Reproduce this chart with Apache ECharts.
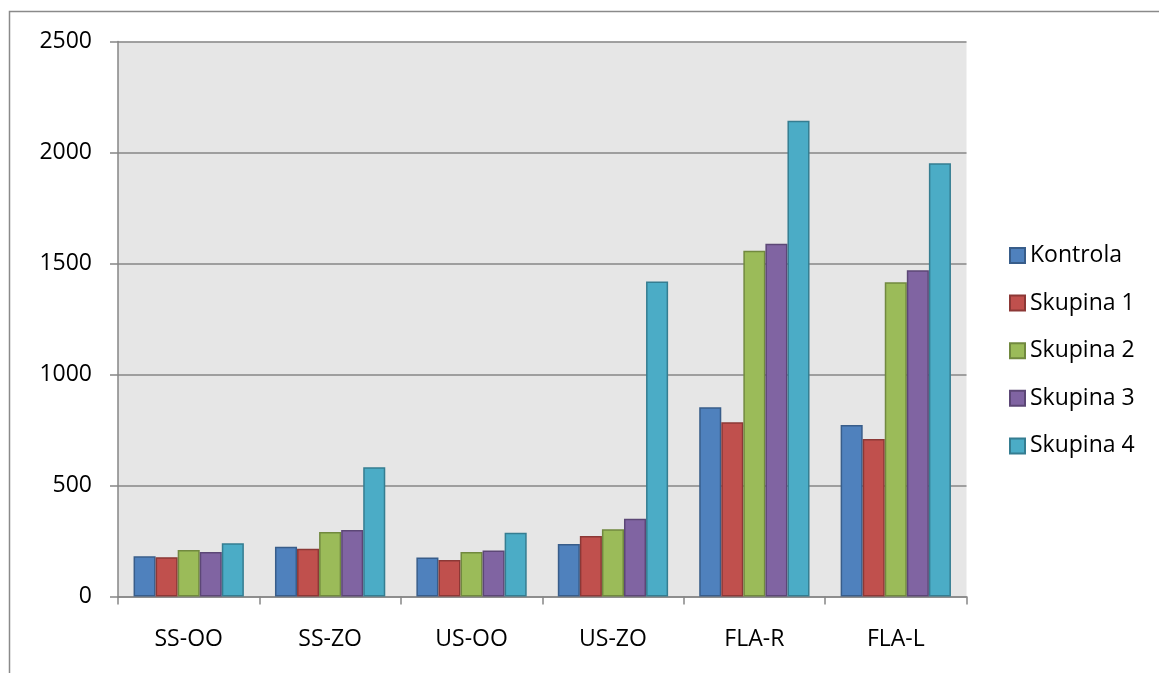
<!DOCTYPE html>
<html>
<head>
<meta charset="utf-8">
<script src="https://cdn.jsdelivr.net/npm/echarts@6/dist/echarts.min.js"></script>
<style>
  html, body { margin: 0; padding: 0; background: #ffffff; }
  #chart { width: 1159px; height: 673px; }
</style>
</head>
<body>
<div id="chart"></div>
<script>
// Measurement sites along the x axis
const categories = ['SS-OO', 'SS-ZO', 'US-OO', 'US-ZO', 'FLA-R', 'FLA-L'];

// Group values per site
const kontrola = [181, 224, 176, 236, 853, 773];
const skupina1 = [177, 215, 164, 273, 785, 709];
const skupina2 = [209, 290, 201, 303, 1557, 1416];
const skupina3 = [200, 300, 207, 350, 1589, 1470];
const skupina4 = [240, 582, 287, 1419, 2143, 1952];

const seriesNames = ['Kontrola', 'Skupina 1', 'Skupina 2', 'Skupina 3', 'Skupina 4'];
const seriesData = [kontrola, skupina1, skupina2, skupina3, skupina4];
const fills = ['#4F81BD', '#C0504D', '#9BBB59', '#8064A2', '#4BACC6'];
const edges = ['#385D8A', '#8C3836', '#71893F', '#5C4776', '#357D91'];

const FONT = 'Open Sans';
const AXIS_GRAY = '#868686';

const chart = echarts.init(document.getElementById('chart'), null, { renderer: 'canvas' });

chart.setOption({
  animation: false,
  backgroundColor: '#ffffff',
  graphic: [{
    type: 'rect',
    silent: true,
    shape: { x: 9.5, y: 11.5, width: 1300, height: 800 },
    style: { fill: 'none', stroke: '#8a8a8a', lineWidth: 1.5 }
  }],
  grid: {
    left: 118, top: 41.5, right: 192.5, bottom: 76.5,
    show: true, backgroundColor: '#e6e6e6', borderWidth: 0
  },
  legend: {
    orient: 'vertical',
    left: 1004, top: 239,
    itemWidth: 15, itemHeight: 15, itemGap: 24.6,
    icon: 'rect',
    textStyle: { fontFamily: FONT, fontSize: 23, color: '#000', lineHeight: 23 },
    data: seriesNames
  },
  xAxis: {
    type: 'category',
    data: categories,
    axisLine: { show: true, lineStyle: { color: AXIS_GRAY, width: 1.5 } },
    axisTick: { show: true, alignWithLabel: false, length: 8, lineStyle: { color: AXIS_GRAY, width: 1.5 } },
    axisLabel: { fontFamily: FONT, fontSize: 23, color: '#000', margin: 31 },
    splitLine: { show: false }
  },
  yAxis: {
    type: 'value',
    min: 0, max: 2500, interval: 500,
    axisLine: { show: true, lineStyle: { color: AXIS_GRAY, width: 1.5 } },
    axisTick: { show: true, length: 8, lineStyle: { color: AXIS_GRAY, width: 1.5 } },
    axisLabel: { fontFamily: FONT, fontSize: 23, color: '#000', margin: 26, formatter: v => String(v) },
    splitLine: { show: true, lineStyle: { color: AXIS_GRAY, width: 1.5 } }
  },
  series: seriesNames.map((name, i) => ({
    name: name,
    type: 'bar',
    data: seriesData[i],
    barGap: '0%',
    barCategoryGap: '22%',
    itemStyle: { color: fills[i], borderColor: edges[i], borderWidth: 1.5 }
  }))
});
</script>
</body>
</html>
